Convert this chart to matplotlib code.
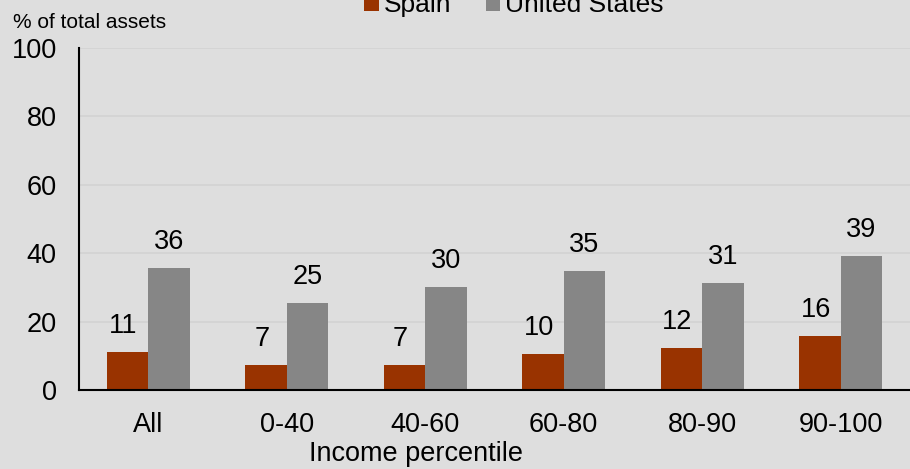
import numpy as np
import matplotlib
matplotlib.use("Agg")
import matplotlib.pyplot as plt
from matplotlib.patches import Patch

# Data
categories = ["All", "0-40", "40-60", "60-80", "80-90", "90-100"]
spain = [11.2, 7.3, 7.3, 10.4, 12.4, 15.7]
united_states = [35.8, 25.4, 30.1, 34.8, 31.4, 39.2]
series_names = ["Spain", "United States"]
yticks = [0, 20, 40, 60, 80, 100]

BG = "#dedede"
COLORS = ["#993300", "#868686"]
FS = 19.5

plt.rcParams["font.family"] = ["Liberation Sans", "DejaVu Sans"]

fig = plt.figure(figsize=(9.10, 4.69), dpi=100, facecolor=BG)
ax = fig.add_axes([0.0868, 0.1684, 0.9132, 0.7293], facecolor=BG)

x = np.arange(len(categories))
width = 0.3
for i, (vals, name) in enumerate(zip([spain, united_states], series_names)):
    pos = x + (i - 0.5) * width
    ax.bar(pos, vals, width=width, color=COLORS[i], label=name, zorder=3)
    for px, v in zip(pos, vals):
        ax.text(px - 0.03 if i == 0 else px, v + 3.8, f"{v:.0f}",
                ha="center", va="bottom", fontsize=FS)

ax.set_xlim(-0.5, len(categories) - 0.5)
ax.set_ylim(0, 100)
ax.set_yticks(yticks)
ax.set_xticks(x)
ax.set_xticklabels(categories)
ax.tick_params(axis="both", length=0, labelsize=FS)
ax.tick_params(axis="y", pad=16)
ax.tick_params(axis="x", pad=16)
ax.grid(axis="y", color="#d2d2d2", linewidth=1.2, zorder=0)

for side in ["top", "right"]:
    ax.spines[side].set_visible(False)
ax.spines["left"].set_color("black")
ax.spines["left"].set_linewidth(1.5)
ax.spines["bottom"].set_color("black")
ax.spines["bottom"].set_linewidth(1.5)
ax.spines["bottom"].set_zorder(4)

fig.text(13 / 910, 1 - 22 / 469, "% of total assets", fontsize=15, va="center", ha="left")
fig.text(416 / 910, 2 / 469, "Income percentile", fontsize=FS, va="bottom", ha="center")

handles = [Patch(facecolor=c) for c in COLORS]
fig.legend(handles, series_names, loc="center", bbox_to_anchor=(514 / 910, 1 - 5 / 469),
           ncol=2, frameon=False, fontsize=19, handlelength=0.55, handleheight=0.55,
           handletextpad=0.2, columnspacing=1.3)

fig.savefig("out.png", dpi=100, facecolor=BG)
